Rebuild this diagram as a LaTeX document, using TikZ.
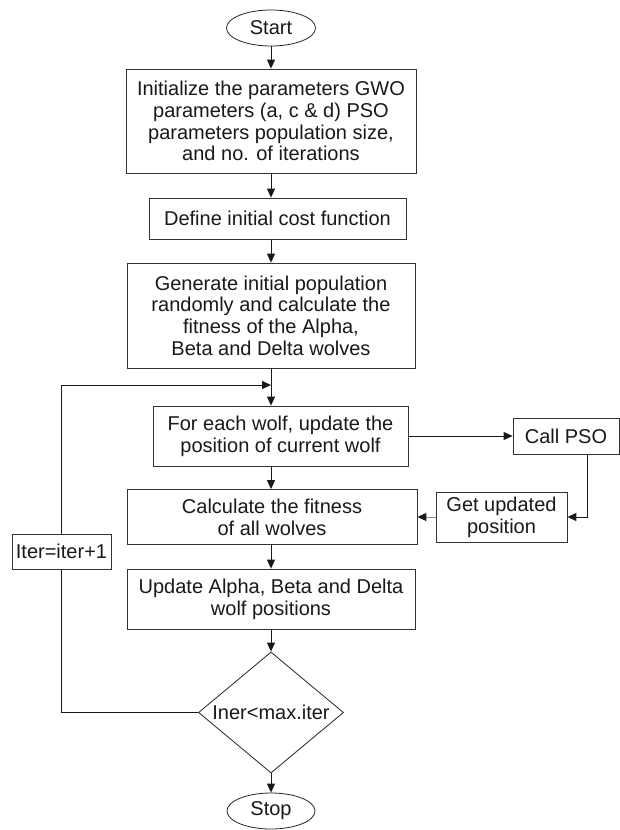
\documentclass[tikz,border=0pt]{standalone}
\usepackage{fontspec}
\setmainfont{Liberation Sans}
\usetikzlibrary{shapes.geometric,arrows.meta}
\begin{document}
\begin{tikzpicture}[x=1pt,y=-1pt,
  every node/.style={font=\fontsize{20}{21.7}\selectfont, text=black!90},
  procbox/.style={draw=black!80, line width=0.8pt, rectangle, align=center, inner sep=0pt},
  term/.style={draw=black!85, line width=0.8pt, ellipse, inner sep=0pt},
  decbox/.style={draw=black!85, line width=0.8pt, diamond, inner sep=0pt, minimum width=145pt, minimum height=121pt},
  arr/.style={draw=black!90, line width=0.9pt, -{Triangle[length=9pt,width=8pt]}},
  greyarr/.style={draw=black!45, line width=0.9pt, -{Triangle[length=9pt,width=8pt,color=black!90]}},
  ln/.style={draw=black!90, line width=0.9pt}
]
\useasboundingbox (0,0) rectangle (620,830);
\fill[white] (0,0) rectangle (620,830);

\node[term, minimum width=89pt, minimum height=36pt] (start) at (271,28) {Start};
\node[procbox, minimum width=290pt, minimum height=104pt] (b1) at (271,121)
  {Initialize the parameters GWO\\parameters (a, c \& d) PSO\\parameters population size,\\and no. of iterations};
\node[procbox, minimum width=257pt, minimum height=41pt] (b2) at (277.5,218.5) {Define initial cost function};
\node[procbox, minimum width=288pt, minimum height=105pt] (b3) at (271,315.5)
  {Generate initial population\\randomly and calculate the\\fitness of the Alpha,\\Beta and Delta wolves};
\node[procbox, minimum width=255pt, minimum height=60pt] (b4) at (280.5,436)
  {For each wolf, update the\\position of current wolf};
\node[procbox, minimum width=106pt, minimum height=36pt] (pso) at (566,436) {Call PSO};
\node[procbox, minimum width=131pt, minimum height=50pt] (getp) at (501.5,517) {Get updated\\position};
\node[procbox, minimum width=290pt, minimum height=55pt] (calc) at (272,517) {Calculate the fitness\\of all wolves};
\node[procbox, minimum width=288pt, minimum height=60pt] (upd) at (271,599)
  {Update Alpha, Beta and Delta\\wolf positions};
\node[decbox, label={center:Iner<max.iter}] (dia) at (271,712.5) {};
\node[term, minimum width=88pt, minimum height=36pt] (stop) at (271,811) {Stop};
\node[procbox, minimum width=99pt, minimum height=35pt, fill=white] (iter) at (61.5,551.5) {Iter=iter+1};

\coordinate (j) at (271,385);
\coordinate (c1) at (587,0);

\draw[arr] (start.south) -- (start.south |- b1.north);
\draw[arr] (b1.south) -- (b1.south |- b2.north);
\draw[arr] (b1.south |- b2.south) -- (b3.north);
\draw[arr] (b3.south) -- (b3.south |- b4.north);
\draw[arr] (b4.east) -- (pso.west);
\draw[arr] (pso.south -| c1) |- (getp.east);
\draw[greyarr] (getp.west) -- (calc.east);
\draw[arr] (b3.south |- b4.south) -- (b3.south |- calc.north);
\draw[arr] (b3.south |- calc.south) -- (upd.north);
\draw[arr] (upd.south) -- (dia.north);
\draw[arr] (dia.south) -- (stop.north);
\draw[ln] (dia.west) -| (iter.south);
\draw[arr] (iter.north) |- (j);
\end{tikzpicture}
\end{document}
